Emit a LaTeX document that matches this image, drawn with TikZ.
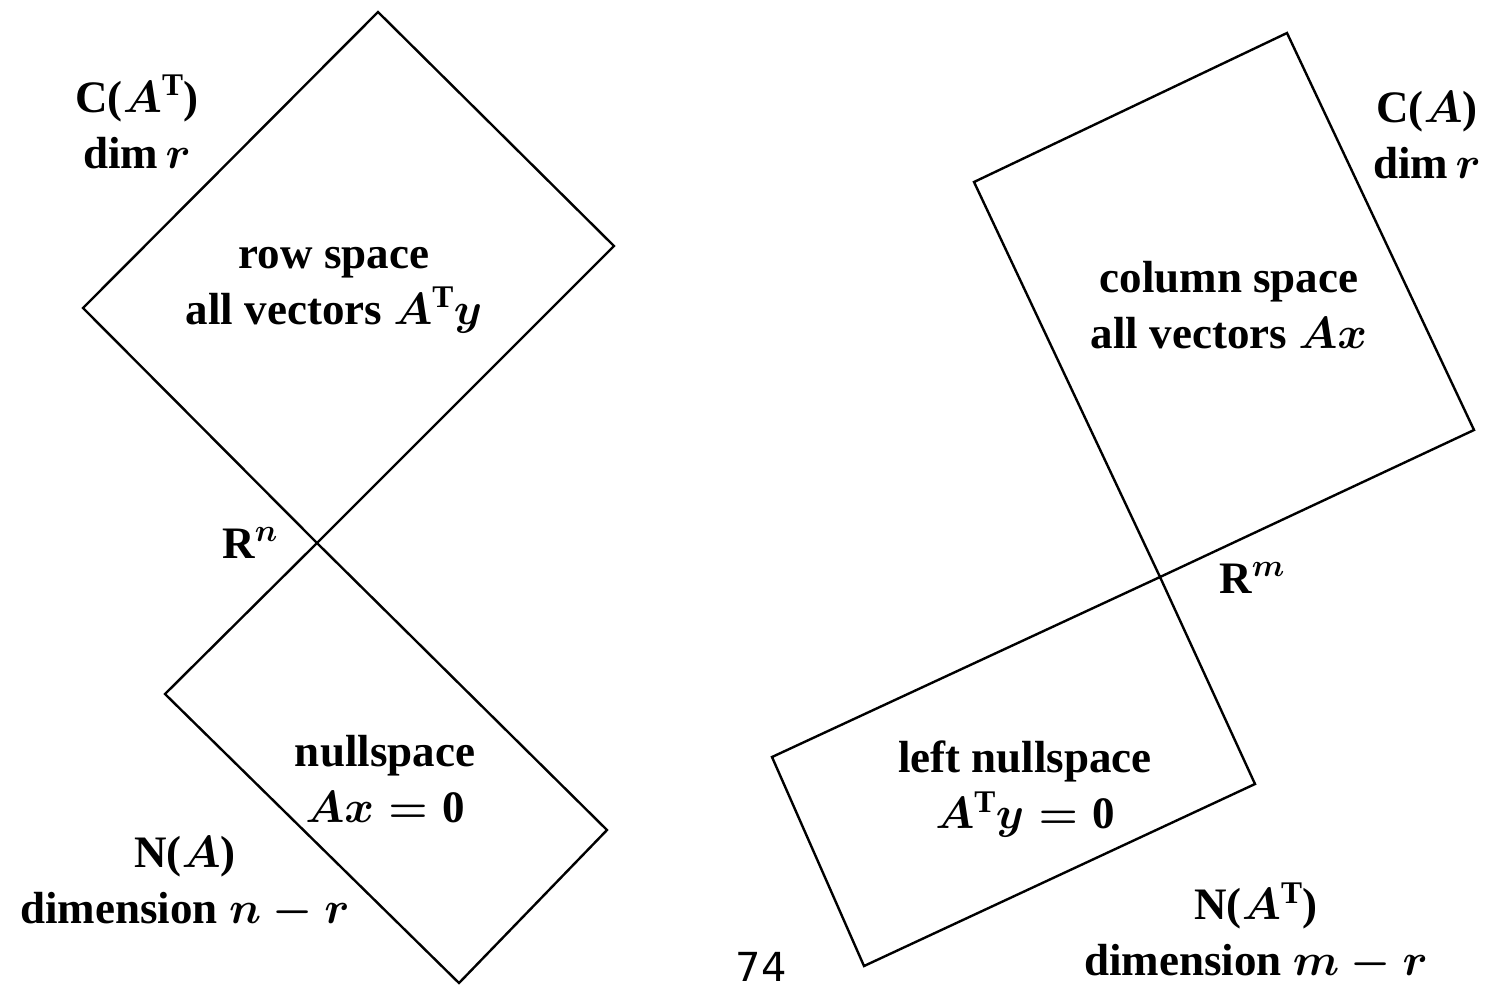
\RequirePackage{fix-cm}
\documentclass[tikz,border=0pt]{standalone}
\usepackage{amsmath}
\usepackage[no-math]{fontspec}
\setmainfont{Liberation Serif}
\setsansfont{DejaVu Sans}
\newcommand{\bT}{\textbf{T}}
\begin{document}
\begin{tikzpicture}[x=1pt,y=-1pt,
  edge/.style={line width=2.4pt, line join=miter},
  lbl/.style={font=\fontsize{45}{56}\selectfont\bfseries\boldmath, align=center, inner sep=0pt}]
\useasboundingbox (0,0) rectangle (1495,986);
% left top square (row space)
\coordinate (a1) at (378,12);
\coordinate (a2) at (614,246);
\coordinate (Rn) at (317,543);
\coordinate (a4) at (83,308);
\draw[edge] (a1) -- (a2) -- (Rn) -- (a4) -- cycle;
% left bottom square (nullspace)
\coordinate (b2) at (607,830);
\coordinate (b3) at (459,983);
\coordinate (b4) at (165,694);
\draw[edge] (Rn) -- (b2) -- (b3) -- (b4) -- cycle;
% right top rectangle (column space)
\coordinate (c1) at (974,182);
\coordinate (c2) at (1287,33);
\coordinate (c3) at (1474,430);
\coordinate (Rm) at (1160,577);
\draw[edge] (c1) -- (c2) -- (c3) -- (Rm) -- cycle;
% right bottom rectangle (left nullspace)
\coordinate (d2) at (1255,784);
\coordinate (d3) at (864,966);
\coordinate (d4) at (772,757);
\draw[edge] (Rm) -- (d2) -- (d3) -- (d4) -- cycle;
% labels
\node[lbl] (cat) at (137,122) {C($A^{\bT}$)\\dim\,$r$};
\node[lbl] (rs) at (334,290) {row space\\all vectors $A^{\bT}y$};
\node[lbl] (rn) at (250,543) {R$^{n}$};
\node[lbl] (ns) at (385,779) {nullspace\\$Ax=\textbf{0}$};
\node[lbl] (na) at (185,883) {N($A$)\\dimension $n-r$};
\node[lbl] (ca) at (1427,135) {C($A$)\\dim\,$r$};
\node[lbl] (cs) at (1229,305) {column space\\all vectors $Ax$};
\node[lbl] (rm) at (1252,578) {R$^{m}$};
\node[lbl] (ln) at (1025,789) {left nullspace\\$A^{\bT}y=\textbf{0}$};
\node[lbl] (nat) at (1256,932) {N($A^{\bT}$)\\dimension $m-r$};
\node[font=\sffamily\fontsize{40}{42}\selectfont, inner sep=0pt, anchor=north] (pg) at (761,952) {74};
\end{tikzpicture}
\end{document}
